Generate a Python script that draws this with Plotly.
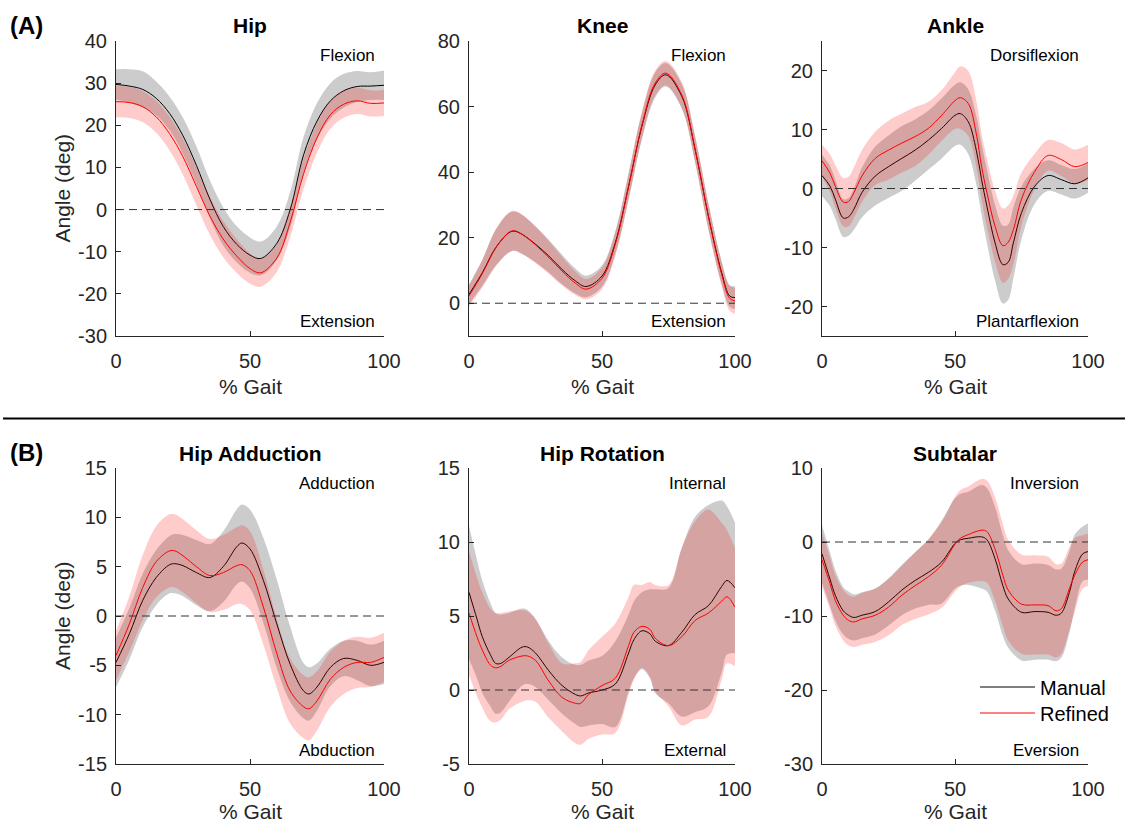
import plotly.graph_objects as go

# ---------------- data ----------------
# (A) Hip flexion/extension
hip_x = [0, 5, 10, 15, 20, 25, 30, 35, 40, 45, 50, 54, 60, 65, 70, 75, 80, 85, 90, 95, 100]
hip_manual = [29.7, 29.3, 28.5, 26.4, 22.8, 17.5, 10.5, 2.5, -4.0, -8.2, -10.8, -11.6, -8.0, 0.0, 13.0, 21.0, 25.8, 28.2, 29.2, 29.3, 29.5]
hip_manual_sd = [3.6, 4.0, 4.3, 4.0, 4.0, 4.3, 4.5, 4.5, 4.5, 4.3, 4.2, 4.0, 4.0, 4.2, 4.3, 4.3, 4.2, 4.0, 3.7, 3.3, 3.5]
hip_refined = [25.6, 25.4, 24.4, 22.0, 18.0, 12.5, 5.5, -1.5, -7.0, -11.0, -14.0, -15.0, -11.5, -3.0, 8.5, 17.0, 22.5, 25.0, 25.8, 25.2, 25.3]
hip_refined_sd = [3.7, 3.7, 3.7, 3.8, 4.0, 4.3, 4.5, 4.5, 4.3, 4.0, 3.6, 3.3, 3.3, 3.5, 3.6, 3.5, 3.3, 3.2, 3.1, 3.1, 3.1]

# (A) Knee
knee_x = [0, 5, 10, 15, 17, 20, 25, 30, 35, 40, 44, 50, 55, 60, 65, 70, 74, 80, 85, 90, 95, 98, 100]
knee_manual = [2.7, 9.3, 16.9, 21.5, 22.0, 21.0, 18.0, 14.4, 10.3, 6.8, 5.1, 8.3, 18.5, 35.7, 54.0, 66.6, 69.7, 63.1, 46.9, 26.6, 9.3, 2.2, 1.7]
knee_manual_sd = [3.0, 4.0, 5.5, 6.0, 6.0, 6.0, 5.5, 5.0, 4.5, 3.8, 3.3, 3.3, 3.5, 4.0, 4.0, 3.8, 3.6, 3.8, 4.0, 4.0, 3.5, 3.3, 3.5]
knee_refined = [2.2, 9.0, 16.8, 21.6, 22.1, 21.0, 17.8, 14.0, 9.8, 6.1, 4.3, 7.6, 18.0, 35.5, 54.3, 67.2, 70.2, 63.5, 47.0, 26.5, 8.8, 1.5, 0.7]
knee_refined_sd = [3.2, 4.2, 5.6, 6.1, 6.1, 6.0, 5.5, 5.0, 4.4, 3.6, 3.1, 3.3, 3.6, 4.0, 4.1, 3.8, 3.7, 3.9, 4.0, 4.0, 3.7, 3.8, 4.0]

# (A) Ankle
ankle_x = [0, 3, 5, 8, 10, 12, 15, 20, 25, 30, 35, 40, 45, 50, 52, 55, 58, 60, 62, 65, 68, 70, 72, 75, 80, 85, 90, 95, 100]
ankle_manual = [2.2, 0.4, -1.8, -5.0, -4.8, -3.5, -0.7, 2.1, 3.7, 5.1, 6.5, 8.2, 10.2, 12.4, 12.7, 11.3, 6.5, 1.5, -3.0, -9.1, -12.9, -12.5, -9.1, -4.1, 0.4, 2.2, 1.5, 0.8, 1.8]
ankle_manual_sd = [3.5, 3.4, 3.3, 3.2, 3.2, 3.5, 4.2, 5.0, 5.3, 5.5, 5.2, 5.0, 5.1, 5.2, 5.3, 5.5, 5.8, 6.0, 6.2, 6.4, 6.6, 6.4, 6.0, 4.5, 3.0, 2.6, 2.5, 2.5, 2.5]
ankle_refined = [4.7, 2.6, 0.4, -2.3, -2.2, -0.7, 2.1, 5.1, 6.5, 7.7, 8.8, 10.2, 12.4, 14.9, 15.4, 14.4, 9.3, 3.7, -0.7, -6.3, -9.7, -9.1, -6.9, -1.8, 2.9, 5.6, 4.9, 3.7, 4.4]
ankle_refined_sd = [2.7, 3.2, 3.6, 4.1, 4.2, 4.3, 4.4, 4.5, 5.0, 5.0, 5.0, 4.5, 4.3, 4.8, 5.3, 5.5, 5.6, 5.6, 5.8, 6.0, 6.3, 6.2, 5.8, 4.5, 3.0, 2.6, 2.8, 2.9, 3.0]

# (B) Hip adduction
hadd_x = [0, 5, 10, 15, 20, 22, 25, 30, 35, 40, 45, 47, 50, 55, 60, 65, 70, 72, 75, 80, 85, 90, 95, 100]
hadd_manual = [-4.7, -1.8, 1.6, 3.9, 5.2, 5.3, 5.1, 4.4, 3.9, 5.0, 7.0, 7.4, 6.8, 3.6, -0.8, -4.9, -7.6, -7.9, -7.2, -5.2, -4.3, -4.5, -5.0, -4.7]
hadd_manual_sd = [2.5, 2.6, 2.7, 2.8, 2.9, 3.0, 3.1, 3.3, 3.4, 3.6, 3.8, 3.9, 4.0, 4.3, 4.5, 3.8, 2.8, 2.7, 2.4, 1.9, 1.8, 2.0, 2.1, 2.2]
hadd_refined = [-4.0, -0.8, 2.9, 5.5, 6.6, 6.6, 6.1, 5.0, 4.1, 4.4, 5.1, 5.2, 4.6, 0.9, -3.8, -7.6, -9.2, -9.4, -8.6, -6.4, -5.2, -4.7, -4.7, -4.2]
hadd_refined_sd = [2.5, 2.8, 3.3, 3.6, 3.7, 3.7, 3.7, 3.7, 3.7, 3.8, 3.9, 4.0, 4.0, 3.8, 3.5, 3.3, 3.2, 3.2, 3.0, 2.8, 2.7, 2.6, 2.5, 2.5]

# (B) Hip rotation
hrot_x = [0, 3, 5, 8, 10, 12, 15, 20, 22, 25, 30, 35, 40, 42, 45, 50, 55, 60, 62, 65, 68, 70, 75, 80, 85, 90, 95, 97, 100]
hrot_manual = [6.6, 4.8, 3.6, 2.4, 1.8, 1.8, 2.2, 2.9, 2.9, 2.5, 1.3, 0.3, -0.3, -0.4, -0.2, 0.0, 0.4, 2.5, 3.4, 4.0, 3.8, 3.3, 3.0, 3.9, 5.1, 5.7, 7.0, 7.4, 6.9]
hrot_manual_sd = [4.5, 4.0, 3.8, 3.5, 3.4, 3.3, 3.0, 2.6, 2.5, 2.3, 2.0, 1.9, 2.0, 2.1, 2.2, 2.3, 2.9, 2.6, 2.6, 2.6, 3.0, 3.5, 3.9, 5.7, 6.6, 6.8, 5.8, 5.0, 4.4]
hrot_refined = [5.2, 3.6, 2.7, 1.7, 1.5, 1.6, 2.0, 2.3, 2.3, 2.0, 0.6, -0.5, -0.9, -0.9, -0.3, 0.3, 0.8, 3.0, 3.9, 4.3, 4.1, 3.5, 3.0, 3.6, 4.7, 5.2, 6.0, 6.3, 5.6]
hrot_refined_sd = [4.2, 4.0, 3.9, 3.8, 3.7, 3.6, 3.3, 3.1, 3.0, 2.8, 2.5, 2.3, 2.7, 2.8, 3.0, 3.3, 3.7, 3.3, 3.2, 2.8, 3.2, 3.6, 4.1, 6.0, 6.7, 7.0, 5.3, 4.5, 4.0]

# (B) Subtalar
sub_x = [0, 3, 5, 8, 10, 12, 15, 20, 25, 30, 35, 40, 45, 50, 52, 55, 60, 62, 65, 68, 70, 75, 80, 85, 88, 90, 93, 95, 98, 100]
sub_manual = [-1.6, -5.0, -7.2, -9.3, -9.9, -10.2, -9.9, -9.4, -8.1, -6.5, -5.2, -4.1, -2.7, -0.2, 0.3, 0.5, 0.7, 0.3, -2.2, -5.9, -7.7, -9.5, -9.4, -9.5, -9.9, -9.6, -6.8, -4.0, -1.6, -1.3]
sub_manual_sd = [3.9, 3.6, 3.4, 3.2, 3.2, 3.1, 3.1, 3.1, 3.2, 3.4, 3.8, 4.4, 5.6, 6.1, 6.2, 6.3, 7.0, 7.0, 7.0, 6.8, 6.6, 6.5, 6.5, 6.4, 6.2, 6.0, 5.5, 5.0, 3.7, 3.8]
sub_refined = [-2.4, -5.6, -7.9, -9.9, -10.6, -10.8, -10.4, -9.9, -8.8, -7.2, -5.9, -4.7, -3.1, -0.3, 0.5, 1.0, 1.6, 1.4, -0.9, -4.5, -6.5, -8.4, -8.5, -8.6, -9.3, -9.0, -6.3, -4.5, -2.7, -2.4]
sub_refined_sd = [3.6, 3.5, 3.4, 3.4, 3.4, 3.4, 3.5, 3.6, 3.8, 4.0, 4.5, 5.1, 5.8, 6.4, 6.5, 6.5, 6.9, 6.9, 7.0, 6.9, 6.8, 6.7, 6.7, 6.6, 6.3, 6.1, 5.6, 5.0, 3.6, 3.5]

titles = ["Hip", "Knee", "Ankle", "Hip Adduction", "Hip Rotation", "Subtalar"]
top_labels = ["Flexion", "Flexion", "Dorsiflexion", "Adduction", "Internal", "Inversion"]
bottom_labels = ["Extension", "Extension", "Plantarflexion", "Abduction", "External", "Eversion"]
y_ranges = [(-30, 40), (-10, 80), (-25, 25), (-15, 15), (-5, 15), (-30, 10)]
y_tickvals = [
    [-30, -20, -10, 0, 10, 20, 30, 40],
    [0, 20, 40, 60, 80],
    [-20, -10, 0, 10, 20],
    [-15, -10, -5, 0, 5, 10, 15],
    [-5, 0, 5, 10, 15],
    [-30, -20, -10, 0, 10],
]
y_ticktext = [[str(v) for v in tv] for tv in y_tickvals]  # MATLAB-style hyphen minus
x_ticks = [0, 50, 100]
x_ticktext = ["0", "50", "100"]
row_labels = ["(A)", "(B)"]
series_names = ["Manual", "Refined"]
x_title = "% Gait"
y_title = "Angle (deg)"

panel_data = [
    (hip_x, hip_manual, hip_manual_sd, hip_refined, hip_refined_sd),
    (knee_x, knee_manual, knee_manual_sd, knee_refined, knee_refined_sd),
    (ankle_x, ankle_manual, ankle_manual_sd, ankle_refined, ankle_refined_sd),
    (hadd_x, hadd_manual, hadd_manual_sd, hadd_refined, hadd_refined_sd),
    (hrot_x, hrot_manual, hrot_manual_sd, hrot_refined, hrot_refined_sd),
    (sub_x, sub_manual, sub_manual_sd, sub_refined, sub_refined_sd),
]

# ---------------- layout geometry ----------------
W, H = 1125, 824
FONT = "Liberation Sans, Arial, Helvetica, sans-serif"
AXC = "#262626"
cols = [(116, 384), (469, 735), (822, 1088)]
rows = [(41, 336), (468, 764)]
xtitle_y = [386, 811]


def px(x):
    return x / W


def py(y):
    return 1 - y / H


fig = go.Figure()
annotations = []

for i, (gx, m_mean, m_sd, r_mean, r_sd) in enumerate(panel_data):
    n = i + 1
    xa = "x" if n == 1 else f"x{n}"
    ya = "y" if n == 1 else f"y{n}"
    r, c = divmod(i, 3)
    leg = (i == 5)

    m_lo = [a - b for a, b in zip(m_mean, m_sd)]
    m_hi = [a + b for a, b in zip(m_mean, m_sd)]
    r_lo = [a - b for a, b in zip(r_mean, r_sd)]
    r_hi = [a + b for a, b in zip(r_mean, r_sd)]

    common = dict(xaxis=xa, yaxis=ya, mode="lines", hoverinfo="skip")
    fig.add_trace(go.Scatter(x=gx, y=m_lo, line=dict(width=0, shape="spline"), showlegend=False, **common))
    fig.add_trace(go.Scatter(x=gx, y=m_hi, line=dict(width=0, shape="spline"), fill="tonexty",
                             fillcolor="rgba(0,0,0,0.2)", showlegend=False, **common))
    fig.add_trace(go.Scatter(x=gx, y=m_mean, line=dict(color="#000000", width=1, shape="spline"),
                             name=series_names[0], showlegend=leg, legend="legend", **common))
    fig.add_trace(go.Scatter(x=gx, y=r_lo, line=dict(width=0, shape="spline"), showlegend=False, **common))
    fig.add_trace(go.Scatter(x=gx, y=r_hi, line=dict(width=0, shape="spline"), fill="tonexty",
                             fillcolor="rgba(255,0,0,0.2)", showlegend=False, **common))
    fig.add_trace(go.Scatter(x=gx, y=r_mean, line=dict(color="#ff0000", width=1, shape="spline"),
                             name=series_names[1], showlegend=leg, legend="legend2", **common))
    fig.add_trace(go.Scatter(x=[0, 100], y=[0, 0], line=dict(color="#333333", width=1, dash="8px,5px"),
                             showlegend=False, **common))

    x0, x1 = cols[c]
    y0, y1 = rows[r]
    axis_common = dict(showline=True, linecolor=AXC, linewidth=1, ticks="inside", ticklen=5,
                       tickcolor=AXC, showgrid=False, zeroline=False, mirror=False, automargin=False,
                       tickfont=dict(family=FONT, size=20, color=AXC))
    fig.layout[("xaxis" if n == 1 else f"xaxis{n}")] = dict(
        domain=[px(x0), px(x1)], anchor=ya, range=[0, 100],
        tickmode="array", tickvals=x_ticks, ticktext=x_ticktext,
        ticklabelstandoff=7, **axis_common)
    ylo, yhi = y_ranges[i]
    fig.layout[("yaxis" if n == 1 else f"yaxis{n}")] = dict(
        domain=[py(y1), py(y0)], anchor=xa, range=[ylo, yhi],
        tickmode="array", tickvals=y_tickvals[i], ticktext=y_ticktext[i],
        ticklabelstandoff=4, **axis_common)

    # axis titles
    annotations.append(dict(text=x_title, x=px((x0 + x1) / 2), y=py(xtitle_y[r]),
                            xref="paper", yref="paper", xanchor="center", yanchor="middle",
                            showarrow=False, font=dict(family=FONT, size=21, color=AXC)))
    if c == 0:
        annotations.append(dict(text=y_title, x=px(62), y=py((y0 + y1) / 2), textangle=-90,
                                xref="paper", yref="paper", xanchor="center", yanchor="middle",
                                showarrow=False, font=dict(family=FONT, size=21, color=AXC)))
    # panel title
    annotations.append(dict(text=f"<b>{titles[i]}</b>", x=px((x0 + x1) / 2), y=py(y0 - 15),
                            xref="paper", yref="paper", xanchor="center", yanchor="middle",
                            showarrow=False, font=dict(family=FONT, size=21, color="#000000")))
    # direction labels
    annotations.append(dict(text=top_labels[i], x=px(x1 - 7), y=py(y0 + 15),
                            xref="paper", yref="paper", xanchor="right", yanchor="middle",
                            showarrow=False, font=dict(family=FONT, size=17, color="#000000")))
    annotations.append(dict(text=bottom_labels[i], x=px(x1 - 7), y=py(y1 - 14),
                            xref="paper", yref="paper", xanchor="right", yanchor="middle",
                            showarrow=False, font=dict(family=FONT, size=17, color="#000000")))

for k, lab in enumerate(row_labels):
    annotations.append(dict(text=f"<b>{lab}</b>", x=px(8), y=py([25, 452][k]),
                            xref="paper", yref="paper", xanchor="left", yanchor="middle",
                            showarrow=False, font=dict(family=FONT, size=24, color="#000000")))

legend_common = dict(xanchor="left", yanchor="middle", bgcolor="rgba(0,0,0,0)",
                     font=dict(family=FONT, size=20, color="#000000"), itemwidth=55)
fig.update_layout(
    width=W, height=H,
    margin=dict(l=0, r=0, t=0, b=0),
    paper_bgcolor="white", plot_bgcolor="white",
    annotations=annotations,
    shapes=[dict(type="line", xref="paper", yref="paper", x0=px(3), x1=1, y0=py(418.5), y1=py(418.5),
                 line=dict(color="#000000", width=2))],
    legend=dict(x=px(975), y=py(687), **legend_common),
    legend2=dict(x=px(975), y=py(713), **legend_common),
    showlegend=True,
)

fig.write_html("out.html",
               config={"displayModeBar": False},
               post_script="document.body.style.margin='0';document.body.style.overflow='hidden';")
